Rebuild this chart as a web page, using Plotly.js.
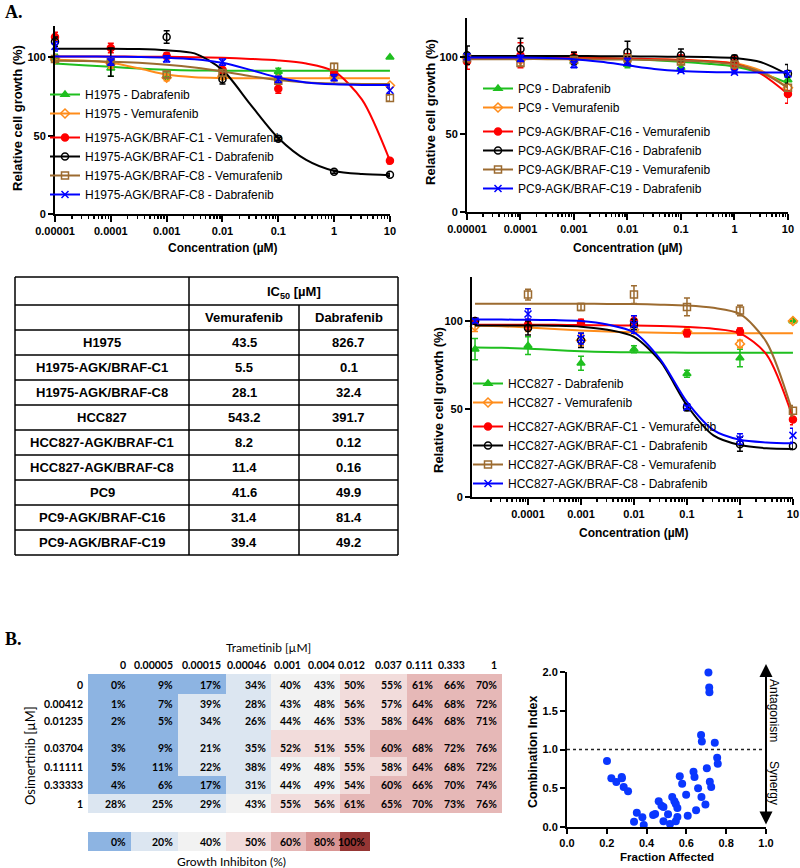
<!DOCTYPE html>
<html>
<head>
<meta charset="utf-8">
<script src="https://cdn.plot.ly/plotly-3.0.1.min.js"></script>
<style>
  body { margin: 0; background: white; }
  #fig { width: 800px; height: 868px; }
</style>
</head>
<body>
<div id="fig"></div>
<script>
// ---- dose response data (relative cell growth, %) ----
const conc = [0.00001, 0.0001, 0.001, 0.01, 0.1, 1, 10];
const concLabels = ['0.00001', '0.0001', '0.001', '0.01', '0.1', '1', '10'];
// points, half-decade apart
const fitConc = [0.00001, 0.0000316, 0.0001, 0.000316, 0.001, 0.00316, 0.01, 0.0316, 0.1, 0.316, 1, 3.16, 10];

const drugColors = ['#1fbf1f', '#ff8c1a', '#ff0000', '#000000', '#9c6b30', '#0000ff'];
const drugSymbols = ['triangle-up', 'diamond-open', 'circle', 'circle-open', 'square-open', 'x-thin-open'];

const h1975Names = ['H1975 - Dabrafenib', 'H1975 - Vemurafenib', 'H1975-AGK/BRAF-C1 - Vemurafenib',
  'H1975-AGK/BRAF-C1 - Dabrafenib', 'H1975-AGK/BRAF-C8 - Vemurafenib', 'H1975-AGK/BRAF-C8 - Dabrafenib'];
const h1975Mean = [
  [99, 93, 88, 88, 91, 89, 100],
  [99, 96, 87, 88, 86, 87, 82],
  [113, 106, 101, 92, 80, 90, 34],
  [110, 97, 113, 86, 48, 27, 25],
  [99, 97, 89, 90, 85, 94, 74],
  [107, 97, 99, 97, 86, 87, 79]
];
const h1975Sem = [
  [3, 5, 2, 2, 2, 2, 0],
  [1, 3, 2, 2, 2, 1, 1],
  [3, 3, 2, 3, 3, 2, 2],
  [3, 9, 4, 3, 1, 1, 1],
  [2, 2, 2, 2, 2, 2, 2],
  [3, 2, 2, 2, 2, 2, 2]
];
const h1975Fit = [
  [96, 95, 94, 92.8, 92, 91.6, 91.5, 91.5, 91.5, 91.5, 91.5, 91.5, 91.5],
  [98.5, 98, 96.5, 93, 89, 87.3, 86.8, 86.6, 86.6, 86.6, 86.6, 86.6, 86.6],
  [100.5, 100.5, 100.5, 100.4, 100.3, 100, 99.7, 99, 98, 96, 91, 73, 34],
  [105.5, 105.5, 105.5, 105.3, 104.5, 102.5, 92, 70, 48.5, 34.5, 27.5, 25.5, 24.8],
  [97.8, 97.6, 97.2, 96.5, 95.3, 93.5, 91, 88, 85.5, 84, 83.3, 83, 83],
  [100.5, 100.5, 100.4, 100.2, 99.8, 98.8, 96.5, 92, 87, 84, 82.8, 82.4, 82.3]
];

const pc9Names = ['PC9 - Dabrafenib', 'PC9 - Vemurafenib', 'PC9-AGK/BRAF-C16 - Vemurafenib',
  'PC9-AGK/BRAF-C16 - Dabrafenib', 'PC9-AGK/BRAF-C19 - Vemurafenib', 'PC9-AGK/BRAF-C19 - Dabrafenib'];
const pc9Mean = [
  [100, 99, 97, 95, 93, 95, 85],
  [99, 98, 98, 99, 98, 96, 80],
  [97, 101, 100, 99, 99, 96, 76],
  [101, 105, 99, 103, 101, 99, 89],
  [99, 96, 98, 99, 97, 95, 80],
  [100, 99, 95, 97, 91, 90, 89]
];
const pc9Sem = [
  [2, 2, 2, 2, 2, 2, 2],
  [1, 1, 1, 1, 1, 1, 1],
  [5, 8, 3, 3, 2, 4, 6],
  [6, 7, 4, 7, 4, 2, 6],
  [2, 2, 2, 2, 2, 2, 2],
  [2, 2, 2, 2, 1, 1, 2]
];
const pc9Fit = [
  [99.8, 99.8, 99.7, 99.6, 99.4, 99.1, 98.6, 97.8, 96.8, 95.6, 93.8, 89.5, 83],
  [99, 99, 99, 99, 99, 98.9, 98.7, 98.4, 98, 97.3, 95.8, 91, 80],
  [99.2, 99.2, 99.2, 99.2, 99.1, 99, 98.8, 98.5, 98, 97.2, 95.5, 89, 76],
  [100.5, 100.5, 100.5, 100.5, 100.5, 100.4, 100.3, 100.2, 100, 99.8, 99.2, 96.5, 88.5],
  [98.5, 98.5, 98.5, 98.5, 98.4, 98.3, 98.2, 98, 97.5, 96.8, 95, 90, 80],
  [99.6, 99.6, 99.5, 99.2, 98.5, 96.8, 94.5, 92.2, 90.8, 90.2, 90, 89.9, 89.9]
];

const hccNames = ['HCC827 - Dabrafenib', 'HCC827 - Vemurafenib', 'HCC827-AGK/BRAF-C1 - Vemurafenib',
  'HCC827-AGK/BRAF-C1 - Dabrafenib', 'HCC827-AGK/BRAF-C8 - Vemurafenib', 'HCC827-AGK/BRAF-C8 - Dabrafenib'];
const hccMean = [
  [84, 86, 76, 84, 70, 79, 100],
  [97, 97, 89, 95, 94, 87, 100],
  [100, 98, 99, 100, 93, 94, 44],
  [100, 96, 89, 98, 51, 30, 29],
  [null, 115, 108, 115, 108, 106, 49],
  [100, 104, 90, 98, 51, 33, 35]
];
const hccSem = [
  [6, 5, 4, 2, 2, 5, 1],
  [3, 3, 3, 2, 2, 2, 1],
  [1, 3, 2, 3, 2, 2, 3],
  [1, 4, 4, 3, 2, 4, 2],
  [0, 3, 2, 5, 5, 3, 3],
  [1, 3, 3, 5, 1, 3, 4]
];
const hccFit = [
  [85, 84.8, 84.3, 83.5, 82.8, 82.4, 82.2, 82.1, 82, 82, 82, 82, 82],
  [97.5, 97, 96.3, 95.4, 94.6, 94, 93.6, 93.3, 93.1, 93, 93, 93, 93],
  [97.8, 97.8, 97.8, 97.8, 97.7, 97.6, 97.4, 97.1, 96.6, 95.6, 93, 81, 45],
  [97.5, 97.5, 97.5, 97.3, 96.8, 95, 91, 77, 52, 35, 29.5, 27.7, 27.3],
  [109.8, 109.8, 109.8, 109.8, 109.8, 109.7, 109.6, 109.3, 108.8, 107.5, 104, 88, 47.5],
  [100.8, 100.8, 100.7, 100.5, 100, 98, 93.5, 78, 54, 38, 32.5, 31, 30.5]
];

// ---- IC50 table ----
const ic50Lines = ['H1975', 'H1975-AGK/BRAF-C1', 'H1975-AGK/BRAF-C8', 'HCC827', 'HCC827-AGK/BRAF-C1',
  'HCC827-AGK/BRAF-C8', 'PC9', 'PC9-AGK/BRAF-C16', 'PC9-AGK/BRAF-C19'];
const ic50Vem = [43.5, 5.5, 28.1, 543.2, 8.2, 11.4, 41.6, 31.4, 39.4];
const ic50Dab = [826.7, 0.1, 32.4, 391.7, 0.12, 0.16, 49.9, 81.4, 49.2];

// ---- combination matrix (growth inhibition, %) ----
const trametinib = ['0', '0.00005', '0.00015', '0.00046', '0.001', '0.004', '0.012', '0.037', '0.111', '0.333', '1'];
const osimertinib = ['0', '0.00412', '0.01235', '0.03704', '0.11111', '0.33333', '1'];
const inhibition = [
  [0, 9, 17, 34, 40, 43, 50, 55, 61, 66, 70],
  [1, 7, 39, 28, 43, 48, 56, 57, 64, 68, 72],
  [2, 5, 34, 26, 44, 46, 53, 58, 64, 68, 71],
  [3, 9, 21, 35, 52, 51, 55, 60, 68, 72, 76],
  [5, 11, 22, 38, 49, 48, 55, 58, 64, 68, 72],
  [4, 6, 17, 31, 44, 49, 54, 60, 66, 70, 74],
  [28, 25, 29, 43, 55, 56, 61, 65, 70, 73, 76]
];
const legendPct = [0, 20, 40, 50, 60, 80, 100];

// ---- combination index vs fraction affected ----
const fractionAffected = [0.201, 0.223, 0.248, 0.275, 0.276, 0.285, 0.307, 0.337, 0.351, 0.379, 0.386, 0.433,
  0.443, 0.461, 0.475, 0.485, 0.485, 0.508, 0.518, 0.529, 0.540, 0.547, 0.547, 0.555, 0.555, 0.567, 0.579,
  0.599, 0.607, 0.636, 0.641, 0.649, 0.659, 0.674, 0.678, 0.676, 0.696, 0.703, 0.711, 0.715, 0.716, 0.718,
  0.725, 0.743, 0.755, 0.758];
const combIndex = [0.852, 0.628, 0.581, 0.645, 0.630, 0.516, 0.460, 0.069, 0.185, 0.125, 0.026, 0.155,
  0.168, 0.331, 0.275, 0.258, 0.073, 0.163, 0.039, 0.387, 0.331, 0.297, 0.073, 0.245, 0.129, 0.654, 0.559,
  0.417, 0.146, 0.714, 0.645, 0.215, 0.499, 1.187, 1.105, 0.387, 0.292, 0.757, 1.996, 1.802, 1.738, 0.585,
  0.516, 1.088, 0.895, 0.817];

// ---- page geometry (pixels) ----
const W = 800, H = 868;
function px(x) { return x / W; }
function py(y) { return 1 - y / H; }

const ARIAL = 'Liberation Sans, Arial, sans-serif';
const CALI = 'Lato, Carlito, sans-serif';

const tableRowY = [277, 305, 330, 355, 380, 405, 430, 455, 480, 505, 530, 555];
const tableColX = [15, 189, 299, 398];
const heatColX = [88, 131, 178, 226, 271, 306, 340, 370, 407, 438, 470, 502];
const heatRowY = [674, 694, 713, 730, 757, 776, 794, 813];
const heatLegendY = [832, 851];

const traces = [];

function addPanel(xa, ya, leg, names, mean, sem, fit) {
  names.forEach(function(name, i) {
    const col = drugColors[i];
    const marker = { symbol: drugSymbols[i], color: col, size: 7, line: { color: col, width: 1.5 } };
    traces.push({
      x: fitConc, y: fit[i], mode: 'lines', xaxis: xa, yaxis: ya,
      line: { color: col, width: 2, shape: 'spline', smoothing: 0.8 },
      showlegend: false, hoverinfo: 'skip'
    });
    traces.push({
      x: conc, y: mean[i], mode: 'markers', xaxis: xa, yaxis: ya, marker: marker,
      error_y: { type: 'data', array: sem[i], color: col, thickness: 1.5, width: 3 },
      showlegend: false, cliponaxis: false
    });
    // legend entry showing line + symbol
    traces.push({
      x: [null], y: [null], mode: 'lines+markers', name: name, xaxis: xa, yaxis: ya,
      legend: leg, legendgroup: i < 2 ? leg + 'parent' : leg + 'clone',
      line: { color: col, width: 2 }, marker: marker
    });
  });
}

addPanel('x', 'y', 'legend', h1975Names, h1975Mean, h1975Sem, h1975Fit);
addPanel('x2', 'y2', 'legend2', pc9Names, pc9Mean, pc9Sem, pc9Fit);
addPanel('x3', 'y3', 'legend3', hccNames, hccMean, hccSem, hccFit);

// heatmap colour classes
const heatColors = ['#8db4e2', '#dce6f1', '#f2f2f2', '#f2dcdb', '#e6b8b7', '#da9694', '#963634'];
const classEdges = [20, 40, 50, 60, 80, 100];
function colourClass(v) {
  let k = 0;
  classEdges.forEach(function(e) { if (v >= e) k++; });
  return k;
}
const heatScale = heatColors.map(function(c, i) { return [i / (heatColors.length - 1), c]; });

traces.push({
  type: 'heatmap', x: heatColX, y: heatRowY, z: inhibition.map(function(r) { return r.map(colourClass); }),
  zmin: 0, zmax: 6, colorscale: heatScale, showscale: false, xaxis: 'x4', yaxis: 'y4', hoverinfo: 'skip'
});
traces.push({
  type: 'heatmap', x: heatColX.slice(0, legendPct.length + 1), y: heatLegendY, z: [legendPct.map(colourClass)],
  zmin: 0, zmax: 6, colorscale: heatScale, showscale: false, xaxis: 'x4', yaxis: 'y4', hoverinfo: 'skip'
});

traces.push({
  x: fractionAffected, y: combIndex, mode: 'markers', xaxis: 'x5', yaxis: 'y5', showlegend: false,
  marker: { color: '#0a37ff', size: 8 }, cliponaxis: false
});

// ---- axes ----
const tickFont = { family: ARIAL, size: 11, color: 'black', weight: 'bold' };
const minorVals = [];
for (let d = -5; d <= 0; d++) {
  for (let k = 2; k <= 9; k++) minorVals.push(k * Math.pow(10, d));
}

function logAxis(dom, range, vals, text, anchor) {
  return {
    type: 'log', domain: [px(dom[0]), px(dom[1])], range: range, anchor: anchor,
    tickmode: 'array', tickvals: vals, ticktext: text,
    showline: true, linecolor: 'black', linewidth: 2, ticks: 'outside', ticklen: 6, tickwidth: 2,
    tickcolor: 'black', showgrid: false, zeroline: false, tickfont: tickFont,
    minor: { tickmode: 'array', tickvals: minorVals, ticks: 'outside', ticklen: 3, tickwidth: 1.5,
      tickcolor: 'black', showgrid: false }
  };
}
function linAxis(dom, range, vals, anchor, fmt) {
  return {
    domain: [py(dom[0]), py(dom[1])], range: range, anchor: anchor,
    tickmode: 'array', tickvals: vals, tickformat: fmt || '',
    showline: true, linecolor: 'black', linewidth: 2, ticks: 'outside', ticklen: 5, tickwidth: 2,
    tickcolor: 'black', showgrid: false, zeroline: false, tickfont: tickFont
  };
}

const legendBase = {
  xanchor: 'left', yanchor: 'top', bgcolor: 'rgba(0,0,0,0)',
  font: { family: ARIAL, size: 12, color: 'black' }, traceorder: 'grouped', tracegroupgap: 5
};

// ---- text ----
const ann = [];
function label(text, x, y, opts) {
  ann.push(Object.assign({ text: text, x: px(x), y: py(y), xref: 'paper', yref: 'paper', showarrow: false,
    xanchor: 'center', yanchor: 'middle' }, opts || {}));
}
const titleFont = { family: ARIAL, size: 13, color: 'black', weight: 'bold' };
const xTitleFont = { family: ARIAL, size: 12, color: 'black', weight: 'bold' };

label('A.', 3, 12, { xanchor: 'left', font: { family: 'Liberation Serif, serif', size: 18, weight: 'bold' } });
label('B.', 3, 639, { xanchor: 'left', font: { family: 'Liberation Serif, serif', size: 18, weight: 'bold' } });

label('Concentration (µM)', 223, 248, { font: xTitleFont });
label('Relative cell growth (%)', 17, 118, { textangle: -90, font: titleFont });
label('Concentration (µM)', 628, 248, { font: xTitleFont });
label('Relative cell growth (%)', 430, 112, { textangle: -90, font: titleFont });
label('Concentration (µM)', 634, 533, { font: xTitleFont });
label('Relative cell growth (%)', 438, 400, { textangle: -90, font: titleFont });

// table text
const cellFont = { family: ARIAL, size: 13, color: 'black', weight: 'bold' };
label('IC<sub>50</sub> [µM]', 294, 293, { font: cellFont });
label('Vemurafenib', (tableColX[1] + tableColX[2]) / 2, (tableRowY[1] + tableRowY[2]) / 2, { font: cellFont });
label('Dabrafenib', (tableColX[2] + tableColX[3]) / 2, (tableRowY[1] + tableRowY[2]) / 2, { font: cellFont });
ic50Lines.forEach(function(name, i) {
  const yc = (tableRowY[i + 2] + tableRowY[i + 3]) / 2;
  label(name, (tableColX[0] + tableColX[1]) / 2, yc, { font: cellFont });
  label(String(ic50Vem[i]), (tableColX[1] + tableColX[2]) / 2, yc, { font: cellFont });
  label(String(ic50Dab[i]), (tableColX[2] + tableColX[3]) / 2, yc, { font: cellFont });
});

// table lines
const shapes = [];
function seg(x0, y0, x1, y1, extra) {
  shapes.push(Object.assign({ type: 'line', xref: 'paper', yref: 'paper', x0: px(x0), y0: py(y0), x1: px(x1), y1: py(y1),
    line: { color: 'black', width: 1.5 } }, extra || {}));
}
tableRowY.forEach(function(y) { seg(tableColX[0], y, tableColX[3], y); });
seg(tableColX[0], tableRowY[0], tableColX[0], tableRowY[11]);
seg(tableColX[1], tableRowY[0], tableColX[1], tableRowY[11]);
seg(tableColX[2], tableRowY[1], tableColX[2], tableRowY[11]);
seg(tableColX[3], tableRowY[0], tableColX[3], tableRowY[11]);

// heatmap text
const heatFont = { family: CALI, size: 10.5, color: 'black', weight: 'bold' };
label('Trametinib [µM]', 268, 647, { font: { family: CALI, size: 12, color: 'black' } });
trametinib.forEach(function(t, j) {
  label(t, heatColX[j + 1] - 3, 665, { xanchor: 'right', font: heatFont });
});
osimertinib.forEach(function(o, i) {
  const yc = heatRowY[i + 1] - 9.5;
  label(o, 85, yc, { xanchor: 'right', font: heatFont });
  inhibition[i].forEach(function(v, j) {
    label(v + '%', heatColX[j + 1] - 3, yc, { xanchor: 'right', font: heatFont });
  });
});
legendPct.forEach(function(p, k) {
  label(p + '%', heatColX[k + 1] - 3, (heatLegendY[0] + heatLegendY[1]) / 2, { xanchor: 'right', font: heatFont });
});
label('Osimertinib [µM]', 30, 756, { textangle: -90, font: { family: CALI, size: 13, color: 'black' } });
label('Growth Inhibiton (%)', 232, 861, { font: { family: CALI, size: 12, color: 'black' } });

// combination index panel
label('Combination Index', 533, 752, { textangle: -90, font: { family: ARIAL, size: 12.5, color: 'black', weight: 'bold' } });
label('Fraction Affected', 667, 857, { font: { family: ARIAL, size: 11.5, color: 'black', weight: 'bold' } });
label('Antagonism', 774, 710, { textangle: 90, font: { family: ARIAL, size: 12, color: 'black' } });
label('Synergy', 774, 783, { textangle: 90, font: { family: ARIAL, size: 12, color: 'black' } });
ann.push({
  xref: 'paper', yref: 'paper', x: px(766), y: py(664), axref: 'pixel', ayref: 'pixel', ax: 0, ay: 162,
  text: '', showarrow: true, arrowhead: 2, startarrowhead: 2, arrowside: 'end+start',
  arrowwidth: 2, arrowsize: 1.3, startarrowsize: 1.3, arrowcolor: 'black'
});
shapes.push({ type: 'line', xref: 'x5', yref: 'y5', x0: 0, x1: 1, y0: 1, y1: 1,
  line: { color: '#222', width: 1.5, dash: 'dot' } });

const layout = {
  width: W, height: H, margin: { l: 0, r: 0, t: 0, b: 0 },
  paper_bgcolor: 'white', plot_bgcolor: 'rgba(0,0,0,0)',
  font: { family: ARIAL, color: 'black' },
  showlegend: true,
  xaxis: logAxis([55, 390], [-5, 1.001], conc, concLabels, 'y'),
  yaxis: linAxis([214, 26], [0, 120], [0, 50, 100], 'x'),
  xaxis2: logAxis([467, 788], [-5, 1.001], conc, concLabels, 'y2'),
  yaxis2: linAxis([212, 18], [0, 125], [0, 50, 100], 'x2'),
  xaxis3: logAxis([472, 793], [-5.057, 1.001], conc.slice(1), concLabels.slice(1), 'y3'),
  yaxis3: linAxis([497, 277], [0, 125], [0, 50, 100], 'x3'),
  xaxis4: { domain: [px(heatColX[0]), px(heatColX[11])], range: [heatColX[0], heatColX[11]], visible: false, anchor: 'y4' },
  yaxis4: { domain: [py(heatLegendY[1]), py(heatRowY[0])], range: [heatLegendY[1], heatRowY[0]], visible: false, anchor: 'x4' },
  xaxis5: linAxis([567, 766], [0, 1.0005], [0, 0.2, 0.4, 0.6, 0.8, 1.0], 'y5', '.1f'),
  yaxis5: linAxis([827, 672], [0, 2.001], [0, 0.5, 1, 1.5, 2], 'x5', '.1f'),
  legend: Object.assign({ x: px(45), y: py(80) }, legendBase),
  legend2: Object.assign({ x: px(478), y: py(74) }, legendBase),
  legend3: Object.assign({ x: px(468), y: py(369) }, legendBase),
  annotations: ann,
  shapes: shapes
};
layout.xaxis5.domain = [px(567), px(766)];
layout.yaxis5.ticklabelstandoff = 0;

Plotly.newPlot('fig', traces, layout, { displayModeBar: false, staticPlot: true });
</script>
</body>
</html>
